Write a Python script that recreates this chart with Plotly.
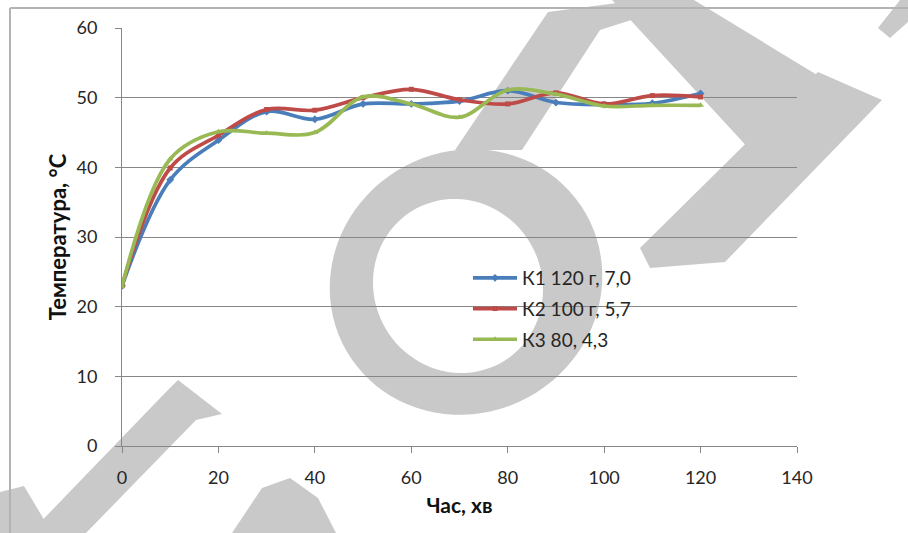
import numpy as np
import plotly.graph_objects as go

# ---------------- data ----------------
time_min = [0, 10, 20, 30, 40, 50, 60, 70, 80, 90, 100, 110, 120]
k1_temp = [23.0, 38.2, 43.9, 48.0, 46.9, 49.1, 49.1, 49.5, 51.0, 49.3, 49.0, 49.2, 50.6]
k2_temp = [23.0, 39.9, 44.6, 48.3, 48.2, 50.0, 51.2, 49.7, 49.1, 50.7, 49.1, 50.3, 50.1]
k3_temp = [22.9, 41.2, 45.1, 44.9, 45.0, 50.1, 49.1, 47.2, 51.1, 50.5, 48.8, 48.9, 48.9]
series_names = ["К1 120 г, 7,0", "К2 100 г, 5,7", "К3 80, 4,3"]
x_title = "Час, хв"
y_title = "Температура, °C"

# ---------------- layout geometry ----------------
W, H = 908, 533
L, R, T, B = 122, 797, 28, 446
PW, PH = R - L, B - T


def pp(x, y):
    return (x - L) / PW, (B - y) / PH


def poly(points):
    s = []
    for i, (x, y) in enumerate(points):
        px, py = pp(x, y)
        s.append(("M" if i == 0 else "L") + f"{px:.5f},{py:.5f}")
    return " ".join(s) + " Z"


def ellipse_pts(cx, cy, rx, ry, rot_deg, n=90, reverse=False):
    t = np.linspace(0, 2 * np.pi, n, endpoint=False)
    if reverse:
        t = t[::-1]
    a = np.deg2rad(rot_deg)
    ex, ey = rx * np.cos(t), ry * np.sin(t)
    xs = cx + ex * np.cos(a) - ey * np.sin(a)
    ys = cy + ex * np.sin(a) + ey * np.cos(a)
    return list(zip(xs, ys))


WM = "#c9c9c9"
shapes = []
# watermark "O" ring
ring = poly(ellipse_pts(466, 282, 138, 131, -30)) + " " + poly(ellipse_pts(458, 286, 84, 88, -30, reverse=True))
shapes.append(dict(type="path", path=ring, xref="paper", yref="paper", fillcolor=WM, line=dict(width=0), layer="below"))
wm_polys = [
    # H left stem (joined to the bar at the top)
    [(548, 12), (640, 0), (694, 0), (600, 30), (522, 150), (455, 150)],
    # H diagonal bar
    [(612, 0), (694, 0), (832, 84), (770, 150), (752, 152)],
    # H right stem
    [(818, 72), (882, 100), (725, 262), (650, 268), (640, 248)],
    # next letter piece top-right
    [(878, 28), (900, 0), (908, 0), (908, 22), (890, 38)],
    # Б stem
    [(178, 380), (222, 414), (196, 420), (86, 533), (30, 533), (166, 392)],
    # Б lower-left piece
    [(0, 492), (24, 486), (52, 533), (0, 533)],
    # Б bowl piece
    [(232, 533), (262, 488), (290, 478), (318, 498), (336, 533)],
]
for pts in wm_polys:
    shapes.append(dict(type="path", path=poly(pts), xref="paper", yref="paper",
                       fillcolor=WM, line=dict(width=0), layer="below"))

# outer chart border (left and top)
bx0, by0 = pp(10, 8)
bx1, by1 = pp(W + 5, H + 5)
shapes.append(dict(type="line", xref="paper", yref="paper", x0=bx0, y0=by0, x1=bx0, y1=by1,
                   line=dict(color="#b3b3b3", width=2)))
shapes.append(dict(type="line", xref="paper", yref="paper", x0=bx0, y0=by0, x1=bx1, y1=by0,
                   line=dict(color="#b3b3b3", width=2)))

colors = ["#4A7EBB", "#BE4B48", "#98B954"]
symbols = ["diamond", "square", "triangle-up"]
msizes = [6, 5, 6]
series = [k1_temp, k2_temp, k3_temp]

fig = go.Figure()
for i, (name, ys) in enumerate(zip(series_names, series)):
    fig.add_trace(go.Scatter(
        x=time_min, y=ys, name=name, mode="lines+markers",
        line=dict(color=colors[i], width=3.7, shape="spline", smoothing=1.0),
        marker=dict(symbol=symbols[i], size=msizes[i], color=colors[i]),
        legendgroup=f"g{i}",
    ))

FONT = "Lato"
TXT = "#262626"
fig.update_layout(
    width=W, height=H,
    margin=dict(l=L, r=W - R, t=T, b=H - B, autoexpand=False),
    paper_bgcolor="white",
    plot_bgcolor="rgba(0,0,0,0)",
    font=dict(family=FONT, size=17, color=TXT),
    shapes=shapes,
    showlegend=True,
    legend=dict(
        x=pp(468, 0)[0], y=pp(0, 259)[1], xanchor="left", yanchor="top",
        bgcolor="rgba(0,0,0,0)", font=dict(family=FONT, size=19, color=TXT),
        tracegroupgap=3, itemwidth=44,
    ),
    xaxis=dict(
        range=[0, 140], dtick=20, tick0=0, showgrid=False, zeroline=False,
        showline=True, linecolor="#868686", linewidth=1,
        ticks="outside", ticklen=6, tickcolor="#868686", ticklabelstandoff=9,
        tickfont=dict(family=FONT, size=18, color=TXT),
        title=dict(text=x_title, font=dict(family=FONT, size=21, color="#111111", weight="bold"), standoff=11),
        fixedrange=True,
    ),
    yaxis=dict(
        range=[0, 60], dtick=10, tick0=0, showgrid=True, gridcolor="#868686", gridwidth=1,
        zeroline=False, showline=True, linecolor="#868686", linewidth=1,
        ticks="outside", ticklen=6, tickcolor="#868686", ticklabelstandoff=14,
        tickfont=dict(family=FONT, size=18, color=TXT),
        title=dict(text=y_title, font=dict(family=FONT, size=22, color="#111111", weight="bold"), standoff=3),
        fixedrange=True,
    ),
)

fig.write_html("out.html")
